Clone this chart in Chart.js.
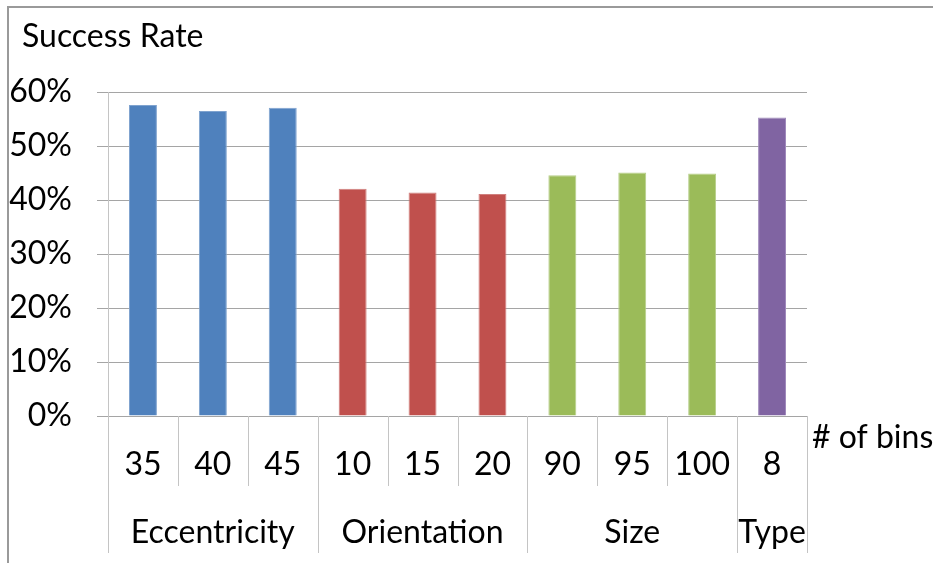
<!DOCTYPE html>
<html>
<head>
<meta charset="utf-8">
<script src="https://cdn.jsdelivr.net/npm/chart.js@4.4.1/dist/chart.umd.min.js"></script>
<style>
  html, body { margin: 0; padding: 0; background: #ffffff; }
  #wrap { width: 933px; height: 563px; position: relative; overflow: hidden; }
</style>
</head>
<body>
<div id="wrap"><canvas id="chart" width="933" height="563"></canvas></div>
<script>
// Number of bins tested for each feature, and the success rate (%) obtained.
const binLabels = ['35', '40', '45', '10', '15', '20', '90', '95', '100', '8'];
const groupNames = ['Eccentricity', 'Orientation', 'Size', 'Type'];
const groupSizes = [3, 3, 3, 1];
const successRate = [57.6, 56.5, 57.1, 42.1, 41.4, 41.1, 44.6, 45.1, 44.9, 55.3];
const yMax = 60;
const yStep = 10;
const chartTitle = 'Success Rate';
const xTitle = '# of bins';

const FONT = 'Lato, "Open Sans", sans-serif';
const FONT_SIZE = 32;
const groupFill = ['#4F81BD', '#C0504D', '#9BBB59', '#8064A2'];
const groupEdge = ['#7FA3CF', '#D07F7D', '#B6CE88', '#A08ABC'];

// colour of every bar from the group it belongs to
const barGroup = [];
groupSizes.forEach((n, g) => { for (let i = 0; i < n; i++) barGroup.push(g); });

const sepColor = '#C4C4C4';

const decorations = {
  id: 'decorations',
  beforeDraw(chart) {
    const ctx = chart.ctx;
    ctx.save();
    ctx.fillStyle = '#ffffff';
    ctx.fillRect(0, 0, chart.width, chart.height);
    // outer frame (top and left edges)
    ctx.strokeStyle = '#9A9A9A';
    ctx.lineWidth = 2;
    ctx.beginPath();
    ctx.moveTo(8, chart.height);
    ctx.lineTo(8, 7);
    ctx.lineTo(chart.width, 7);
    ctx.stroke();
    ctx.restore();
  },
  afterDraw(chart) {
    const ctx = chart.ctx;
    const x = chart.scales.x;
    const area = chart.chartArea;
    const half = (x.getPixelForValue(1) - x.getPixelForValue(0)) / 2;
    const tickBottom = area.bottom + 70;
    const groupBottom = area.bottom + 137;

    ctx.save();
    ctx.fillStyle = '#000000';
    ctx.font = FONT_SIZE + 'px ' + FONT;
    ctx.textBaseline = 'alphabetic';

    // title
    ctx.textAlign = 'left';
    ctx.fillText(chartTitle, 22, 47);
    // axis title to the right of the category axis
    ctx.fillText(xTitle, 812, 448);

    // separators between categories and between groups
    ctx.strokeStyle = sepColor;
    ctx.lineWidth = 1;
    let idx = 0;
    const boundaries = new Set([0]);
    groupSizes.forEach(n => { idx += n; boundaries.add(idx); });
    for (let i = 0; i <= binLabels.length; i++) {
      const px = Math.round(x.getPixelForValue(i) - half) + 0.5;
      const bottom = boundaries.has(i) ? groupBottom : tickBottom;
      ctx.beginPath();
      ctx.moveTo(px, area.bottom);
      ctx.lineTo(px, bottom);
      ctx.stroke();
    }

    // bin labels
    ctx.textAlign = 'center';
    binLabels.forEach((lab, i) => {
      ctx.fillText(lab, x.getPixelForValue(i), area.bottom + 59);
    });

    // group labels
    let start = 0;
    groupNames.forEach((name, g) => {
      const end = start + groupSizes[g] - 1;
      const cx = (x.getPixelForValue(start) + x.getPixelForValue(end)) / 2;
      ctx.fillText(name, cx, area.bottom + 127);
      start += groupSizes[g];
    });
    ctx.restore();
  }
};

function build() {
  new Chart(document.getElementById('chart'), {
    type: 'bar',
    data: {
      labels: binLabels,
      datasets: [{
        label: chartTitle,
        data: successRate,
        backgroundColor: barGroup.map(g => groupFill[g]),
        borderColor: barGroup.map(g => groupEdge[g]),
        borderWidth: 1,
        borderSkipped: 'bottom',
        categoryPercentage: 1,
        barPercentage: 0.4
      }]
    },
    options: {
      responsive: false,
      animation: false,
      devicePixelRatio: 1,
      layout: { padding: { left: 8, top: 92, right: 126, bottom: 147 } },
      plugins: {
        legend: { display: false },
        title: { display: false },
        tooltip: { enabled: false }
      },
      scales: {
        x: { display: false },
        y: {
          min: 0,
          max: yMax,
          afterFit(scale) { scale.width = 100; },
          ticks: {
            stepSize: yStep,
            padding: 25,
            color: '#000000',
            font: { family: FONT, size: FONT_SIZE },
            callback: v => v + '%'
          },
          grid: { color: '#A5A5A5', lineWidth: 1, tickLength: 11 },
          border: { color: sepColor, width: 1 }
        }
      }
    },
    plugins: [decorations]
  });
}

if (document.fonts && document.fonts.load) {
  document.fonts.load(FONT_SIZE + 'px Lato').then(build, build);
} else {
  build();
}
</script>
</body>
</html>
